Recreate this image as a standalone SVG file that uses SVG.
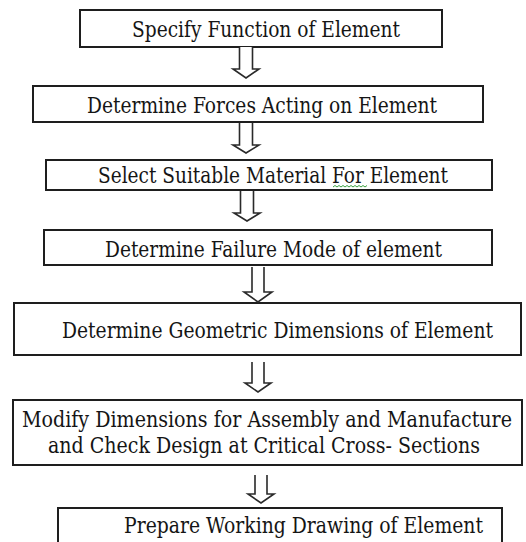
<svg xmlns="http://www.w3.org/2000/svg" width="526" height="542" viewBox="0 0 526 542">
<style>
.box{fill:#fff;stroke:#1e1e1e;stroke-width:2}
.lbl{font-family:'DejaVu Serif Condensed','DejaVu Serif','Liberation Serif',serif;font-stretch:condensed;font-size:23px;fill:#151515}
.arr{fill:#fff;stroke:#2a2a2a;stroke-width:1.6;stroke-linejoin:miter}
</style>
<rect width="526" height="542" fill="#fff"/>
<g id="n1"><rect class="box" x="80" y="10" width="362" height="37"/><text class="lbl" x="132" y="37" textLength="268" lengthAdjust="spacingAndGlyphs">Specify Function  of Element</text></g>
<g id="n2"><rect class="box" x="33" y="86" width="450" height="36"/><text class="lbl" x="87" y="113" textLength="350" lengthAdjust="spacingAndGlyphs">Determine Forces  Acting on Element</text></g>
<g id="n3"><rect class="box" x="46" y="160" width="446" height="30"/><text class="lbl" x="98" y="183" textLength="350" lengthAdjust="spacingAndGlyphs">Select Suitable Material  For Element</text><path d="M333 187 l2 -1.5 l2 1.5 l2 -1.5 l2 1.5 l2 -1.5 l2 1.5 l2 -1.5 l2 1.5 l2 -1.5 l2 1.5 l2 -1.5 l2 1.5 l2 -1.5 l2 1.5 l2 -1.5 l2 1.5 l2 -1.5" fill="none" stroke="#3aa040" stroke-width="1"/></g>
<g id="n4"><rect class="box" x="44" y="230" width="448" height="35"/><text class="lbl" x="105" y="257" textLength="337" lengthAdjust="spacingAndGlyphs">Determine Failure  Mode of element</text></g>
<g id="n5"><rect class="box" x="14" y="303" width="507" height="52"/><text class="lbl" x="62" y="338" textLength="431" lengthAdjust="spacingAndGlyphs">Determine Geometric  Dimensions of Element</text></g>
<g id="n6"><rect class="box" x="13" y="400" width="509" height="65"/><text class="lbl" x="22" y="427" textLength="490" lengthAdjust="spacingAndGlyphs">Modify Dimensions for Assembly and Manufacture</text><text class="lbl" x="48" y="453" textLength="432" lengthAdjust="spacingAndGlyphs">and  Check Design at Critical  Cross- Sections</text></g>
<g id="n7"><rect class="box" x="58" y="508" width="444" height="40"/><text class="lbl" x="124" y="533" textLength="359" lengthAdjust="spacingAndGlyphs">Prepare Working Drawing of Element</text></g>
<g id="connectors">
<path class="arr" d="M239.5 47 V69 H233 L246 78 L259 69 H252.5 V47"/>
<path class="arr" d="M239.5 123 V145 H233 L246 153 L259 145 H252.5 V123"/>
<path class="arr" d="M240.5 191 V213 H234 L247 221 L260 213 H253.5 V191"/>
<path class="arr" d="M252 267 V292 H244 L258 302 L272 292 H264 V267"/>
<path class="arr" d="M252 362 V383 H245 L258 392 L271 383 H264 V362"/>
<path class="arr" d="M255 475 V494 H248 L261 503 L274 494 H267 V475"/>
</g>
</svg>
